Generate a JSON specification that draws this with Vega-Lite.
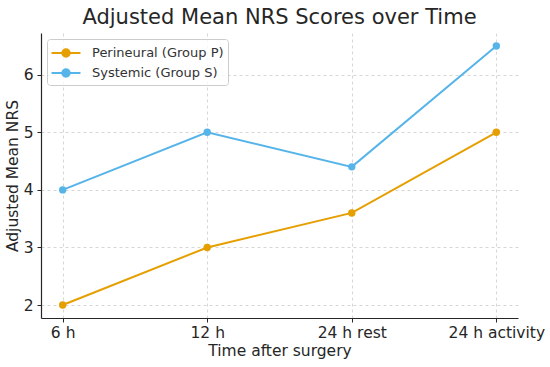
{
  "$schema": "https://vega.github.io/schema/vega-lite/v6.json",
  "width": 477,
  "height": 285,
  "autosize": {"type": "none"},
  "padding": {"left": 41, "top": 33, "right": 32, "bottom": 49},
  "background": "white",
  "config": {
    "view": {"stroke": null},
    "font": "DejaVu Sans"
  },
  "title": {
    "text": "Adjusted Mean NRS Scores over Time",
    "fontSize": 21,
    "fontWeight": "normal",
    "color": "#262626",
    "anchor": "middle",
    "offset": 5,
    "font": "DejaVu Sans"
  },
  "data": {
    "values": [
      {"time": "6 h", "group": "Perineural (Group P)", "nrs": 2.0},
      {"time": "12 h", "group": "Perineural (Group P)", "nrs": 3.0},
      {"time": "24 h rest", "group": "Perineural (Group P)", "nrs": 3.6},
      {"time": "24 h activity", "group": "Perineural (Group P)", "nrs": 5.0},
      {"time": "6 h", "group": "Systemic (Group S)", "nrs": 4.0},
      {"time": "12 h", "group": "Systemic (Group S)", "nrs": 5.0},
      {"time": "24 h rest", "group": "Systemic (Group S)", "nrs": 4.4},
      {"time": "24 h activity", "group": "Systemic (Group S)", "nrs": 6.5}
    ]
  },
  "mark": {"type": "line", "strokeWidth": 2, "point": {"filled": true, "size": 55, "opacity": 1}},
  "encoding": {
    "x": {
      "field": "time",
      "type": "ordinal",
      "sort": ["6 h", "12 h", "24 h rest", "24 h activity"],
      "scale": {"type": "point", "padding": 0.15},
      "axis": {
        "title": "Time after surgery",
        "labelAngle": 0,
        "labelFontSize": 15.5,
        "labelColor": "#262626",
        "titleFontSize": 15.5,
        "titleFontWeight": "normal",
        "titleColor": "#262626",
        "titlePadding": 3,
        "labelPadding": 3,
        "tickSize": 4,
        "tickColor": "#262626",
        "domainColor": "#262626",
        "domainWidth": 1.2,
        "grid": true,
        "gridColor": "#cccccc",
        "gridDash": [3, 3],
        "gridWidth": 0.8
      }
    },
    "y": {
      "field": "nrs",
      "type": "quantitative",
      "scale": {"domain": [1.775, 6.725], "nice": false, "zero": false},
      "axis": {
        "title": "Adjusted Mean NRS",
        "values": [2, 3, 4, 5, 6],
        "format": "d",
        "labelFontSize": 15.5,
        "labelColor": "#262626",
        "titleFontSize": 15.5,
        "titleFontWeight": "normal",
        "titleColor": "#262626",
        "titlePadding": 3,
        "labelPadding": 4,
        "tickSize": 4,
        "tickColor": "#262626",
        "domainColor": "#262626",
        "domainWidth": 1.2,
        "grid": true,
        "gridColor": "#cccccc",
        "gridDash": [3, 3],
        "gridWidth": 0.8
      }
    },
    "color": {
      "field": "group",
      "type": "nominal",
      "scale": {"domain": ["Perineural (Group P)", "Systemic (Group S)"], "range": ["#E69F00", "#56B4E9"]},
      "legend": {
        "title": null,
        "orient": "none",
        "legendX": 6,
        "legendY": 6,
        "labelFontSize": 13,
        "labelColor": "#333333",
        "symbolType": "M-1.67,0L-0.43,0M0.43,0L1.67,0M0.43,0A0.43,0.43 0 1,1 -0.43,0A0.43,0.43 0 1,1 0.43,0",
        "symbolSize": 300,
        "symbolStrokeWidth": 2,
        "symbolFillColor": null,
        "symbolOffset": 5,
        "labelOffset": 16,
        "rowPadding": 2,
        "padding": 4,
        "fillColor": "rgba(255,255,255,0.8)",
        "strokeColor": "#cccccc",
        "cornerRadius": 3
      }
    }
  }
}
